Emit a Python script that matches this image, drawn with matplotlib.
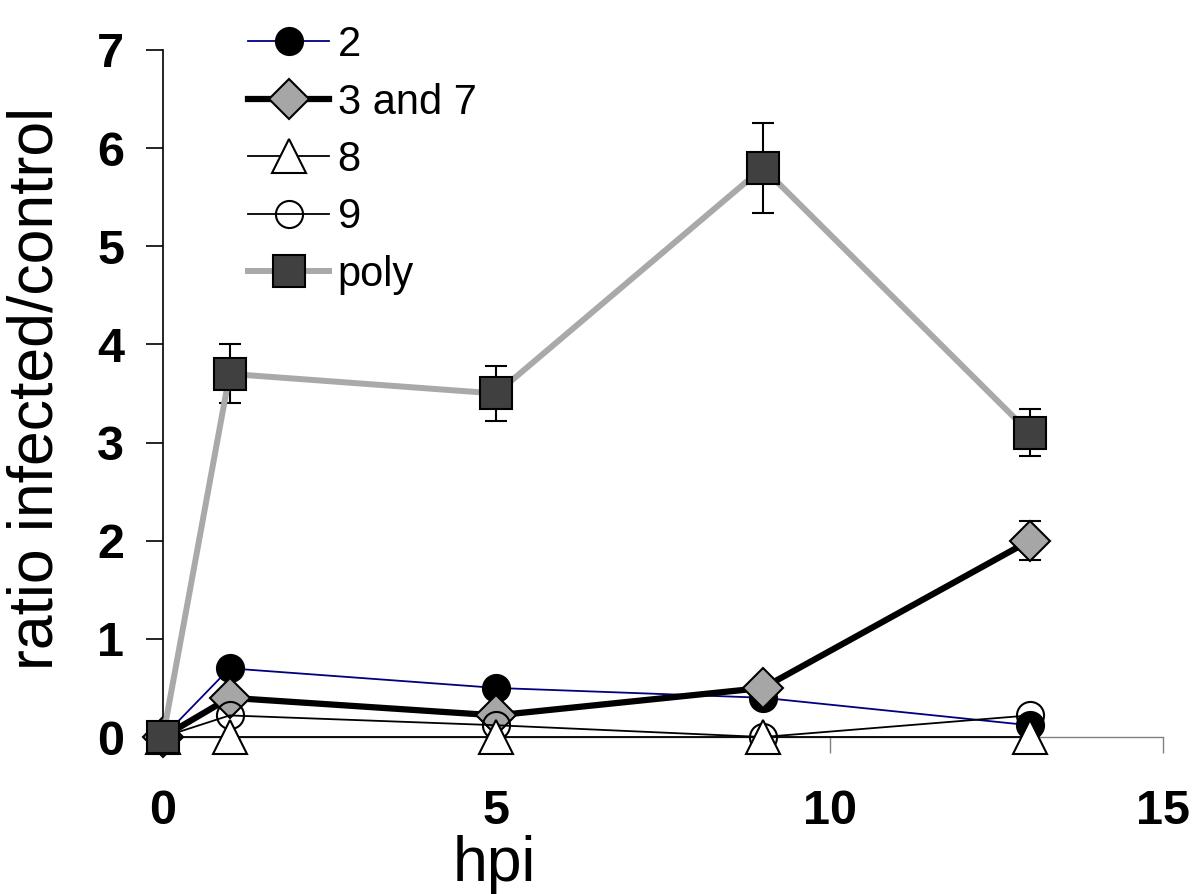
import matplotlib
matplotlib.use("Agg")
import matplotlib.pyplot as plt

plt.rcParams['font.family'] = ['Liberation Sans', 'DejaVu Sans']

# data
hpi = [0, 1, 5, 9, 13]
s2 = [0, 0.7, 0.5, 0.4, 0.12]
s37 = [0, 0.4, 0.22, 0.5, 2.0]
s8 = [0, 0, 0, 0, 0]
s9 = [0, 0.22, 0.12, 0, 0.22]
poly = [0, 3.7, 3.5, 5.8, 3.1]
s37_err = [0, 0, 0, 0, 0.2]
poly_err = [0, 0.3, 0.28, 0.46, 0.24]
xticks = [0, 5, 10, 15]
yticks = [0, 1, 2, 3, 4, 5, 6, 7]

fig = plt.figure(figsize=(12, 8.94), dpi=100)
ax = fig.add_axes([0.1358, 0.1756, 0.8333, 0.7685])

ax.plot(hpi, s2, color='#000080', lw=1.3, marker='o', ms=19.5,
        mfc='black', mec='black', mew=1.5, label='2', clip_on=False, zorder=3)
ax.plot(hpi, s37, color='black', lw=4.5, marker='D', ms=20,
        mfc='#a6a6a6', mec='black', mew=1.5, label='3 and 7', clip_on=False, zorder=4)
ax.plot(hpi, s8, color='black', lw=1.3, marker='^', ms=24,
        mfc='white', mec='black', mew=1.5, label='8', clip_on=False, zorder=6)
ax.plot(hpi, s9, color='black', lw=1.3, marker='o', ms=19.5,
        mfc='none', mec='black', mew=1.5, label='9', clip_on=False, zorder=5)
ax.plot(hpi, poly, color='#a9a9a9', lw=4.3, marker='s', ms=23,
        mfc='#404040', mec='black', mew=1.5, label='poly', clip_on=False, zorder=8)

# error bars (only where given)
ex = [x for x, e in zip(hpi, s37_err) if e > 0]
ey = [y for y, e in zip(s37, s37_err) if e > 0]
ee = [e for e in s37_err if e > 0]
ax.errorbar(ex, ey, yerr=ee, fmt='none', ecolor='black', elinewidth=1.5,
            capsize=8, capthick=1.5, zorder=3.5)
px = [x for x, e in zip(hpi, poly_err) if e > 0]
py = [y for y, e in zip(poly, poly_err) if e > 0]
pe = [e for e in poly_err if e > 0]
ax.errorbar(px, py, yerr=pe, fmt='none', ecolor='black', elinewidth=1.5,
            capsize=8, capthick=1.5, zorder=7)

ax.set_xlim(0, 15)
ax.set_ylim(0, 7)
ax.set_xticks(xticks)
ax.set_yticks(yticks)

ax.spines['top'].set_visible(False)
ax.spines['right'].set_visible(False)
ax.spines['bottom'].set_color('#808080')
ax.spines['bottom'].set_linewidth(1.0)
ax.spines['left'].set_color('black')
ax.spines['left'].set_linewidth(1.2)

ax.tick_params(axis='x', direction='out', length=11.5, width=1.0, color='#808080',
               pad=26, labelsize=35)
ax.tick_params(axis='y', direction='out', length=12, width=1.2, color='black',
               pad=16, labelsize=35)
for lbl in ax.get_xticklabels() + ax.get_yticklabels():
    lbl.set_fontweight('bold')

fig.text(36 / 1200, 1 - 388 / 894, 'ratio infected/control', rotation=90,
         ha='center', va='center', fontsize=45)
fig.text(494 / 1200, 1 - 864 / 894, 'hpi', ha='center', va='center', fontsize=45)

ax.legend(loc='upper left', bbox_to_anchor=(248 / 1200, 1 - 25 / 894),
          bbox_transform=fig.transFigure, frameon=False, fontsize=30,
          borderpad=0, borderaxespad=0, handlelength=1.95, handletextpad=0.2,
          labelspacing=0.42, numpoints=1)

fig.savefig('out.png', dpi=100)
